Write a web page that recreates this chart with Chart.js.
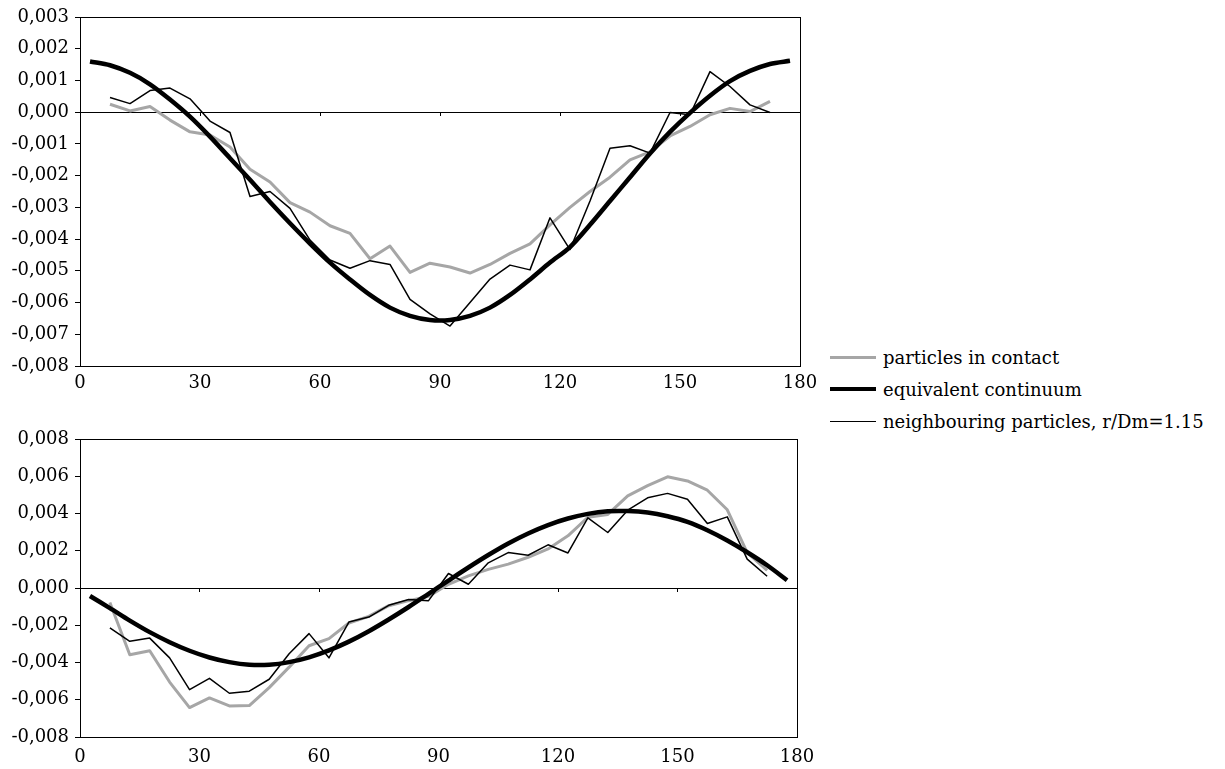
<!DOCTYPE html>
<html>
<head>
<meta charset="utf-8">
<script src="https://cdn.jsdelivr.net/npm/chart.js@4.4.1/dist/chart.umd.min.js"></script>
<style>
  body { margin: 0; width: 1225px; height: 769px; overflow: hidden; position: relative; background: #fff;
         font-family: 'DejaVu Serif', serif; color: #000; }
  .plot { position: absolute; left: 0; }
  #top-box { top: 0; width: 825px; height: 400px; }
  #bot-box { top: 420px; width: 822px; height: 349px; }
  #legend { position: absolute; left: 830px; top: 341px; font-size: 18px; }
  #legend .row { display: flex; align-items: center; height: 32px; }
  #legend .swatch { width: 46px; margin-right: 7px; }
</style>
</head>
<body>
<div class="plot" id="top-box"><canvas id="chart-top"></canvas></div>
<div class="plot" id="bot-box"><canvas id="chart-bot"></canvas></div>
<div id="legend"></div>
<script>
'use strict';

// ── Data (y values in units of 0.001) ───────────────────────────────────────
const UNIT = 0.001;

const ANGLES_FULL = [2.5, 7.5, 12.5, 17.5, 22.5, 27.5, 32.5, 37.5, 42.5, 47.5, 52.5, 57.5,
  62.5, 67.5, 72.5, 77.5, 82.5, 87.5, 92.5, 97.5, 102.5, 107.5, 112.5, 117.5,
  122.5, 127.5, 132.5, 137.5, 142.5, 147.5, 152.5, 157.5, 162.5, 167.5, 172.5, 177.5];
const ANGLES_INNER = [7.5, 12.5, 17.5, 22.5, 27.5, 32.5, 37.5, 42.5, 47.5, 52.5, 57.5,
  62.5, 67.5, 72.5, 77.5, 82.5, 87.5, 92.5, 97.5, 102.5, 107.5, 112.5, 117.5,
  122.5, 127.5, 132.5, 137.5, 142.5, 147.5, 152.5, 157.5, 162.5, 167.5, 172.5];

const X_TICKS = [0, 30, 60, 90, 120, 150, 180];

const SERIES_NAMES = ['particles in contact', 'equivalent continuum', 'neighbouring particles, r/Dm=1.15'];

// upper chart
const topContact = [0.25, 0.04, 0.18, -0.25, -0.62, -0.72, -1.10, -1.80, -2.20, -2.85, -3.15,
  -3.58, -3.82, -4.62, -4.22, -5.05, -4.76, -4.88, -5.07, -4.80, -4.45, -4.15, -3.55,
  -3.00, -2.50, -2.05, -1.50, -1.25, -0.75, -0.45, -0.08, 0.12, 0.02, 0.34];
const topContinuum = [1.60, 1.48, 1.24, 0.88, 0.40, -0.14, -0.77, -1.45, -2.13, -2.83, -3.50, -4.14,
  -4.74, -5.27, -5.76, -6.16, -6.42, -6.55, -6.55, -6.42, -6.16, -5.76, -5.27, -4.74,
  -4.25, -3.55, -2.80, -2.05, -1.30, -0.62, -0.02, 0.52, 0.98, 1.30, 1.52, 1.62];
const topNeighbour = [0.46, 0.27, 0.68, 0.76, 0.42, -0.28, -0.64, -2.66, -2.50, -3.03, -4.03,
  -4.66, -4.92, -4.68, -4.80, -5.90, -6.36, -6.74, -6.00, -5.26, -4.82, -4.97, -3.33,
  -4.33, -2.80, -1.14, -1.06, -1.29, -0.01, -0.08, 1.28, 0.81, 0.23, -0.01];

// lower chart
const botContact = [-0.78, -3.58, -3.37, -5.05, -6.42, -5.90, -6.33, -6.31, -5.35, -4.25, -3.10,
  -2.72, -1.88, -1.52, -0.95, -0.68, -0.45, 0.20, 0.65, 1.00, 1.28, 1.65, 2.10,
  2.80, 3.80, 3.95, 4.95, 5.50, 5.97, 5.75, 5.25, 4.20, 1.90, 0.95];
const botContinuum = [-0.43, -1.08, -1.75, -2.37, -2.91, -3.37, -3.73, -3.98, -4.12, -4.12, -3.98, -3.72,
  -3.35, -2.88, -2.32, -1.69, -1.02, -0.31, 0.40, 1.10, 1.77, 2.39, 2.93, 3.38,
  3.73, 3.98, 4.12, 4.13, 4.05, 3.85, 3.55, 3.10, 2.55, 1.92, 1.22, 0.42];
const botNeighbour = [-2.14, -2.86, -2.69, -3.75, -5.46, -4.85, -5.65, -5.54, -4.90, -3.53, -2.45,
  -3.75, -1.83, -1.56, -0.93, -0.62, -0.68, 0.78, 0.20, 1.35, 1.90, 1.76, 2.32,
  1.88, 3.77, 2.98, 4.18, 4.84, 5.08, 4.77, 3.46, 3.82, 1.55, 0.63];

// ── Styles ───────────────────────────────────────────────────────────────────
const STYLES = [
  { color: '#a6a6a6', width: 3,   order: 2 },   // particles in contact
  { color: '#000000', width: 4.5, order: 0 },   // equivalent continuum
  { color: '#000000', width: 1.5, order: 1 },   // neighbouring particles
];

Chart.defaults.font.family = "'DejaVu Serif', serif";
Chart.defaults.font.size = 18;
Chart.defaults.color = '#000';

const points = (xs, ys) => xs.map((x, i) => ({ x, y: ys[i] * UNIT }));
const isZero = v => Math.abs(v) < 1e-9;
const fmtTick = v => (isZero(v) ? 0 : v).toFixed(3).replace('.', ',');

function dataset(i, xs, ys) {
  const s = STYLES[i];
  return {
    label: SERIES_NAMES[i], data: points(xs, ys),
    borderColor: s.color, borderWidth: s.width, order: s.order,
    pointRadius: 0, tension: i === 1 ? 0.3 : 0, fill: false,
    borderJoinStyle: 'round', borderCapStyle: 'butt', xAxisID: 'x', yAxisID: 'y',
  };
}

// plain rectangle round the plot area
const frame = {
  id: 'frame',
  beforeDatasetsDraw(chart) {
    const { ctx, chartArea: a } = chart;
    ctx.save();
    ctx.strokeStyle = '#000';
    ctx.lineWidth = 1;
    ctx.strokeRect(Math.round(a.left) + 0.5, Math.round(a.top) + 0.5,
      Math.round(a.right - a.left), Math.round(a.bottom - a.top));
    ctx.restore();
  },
};

function noPad(scale) {
  scale.paddingLeft = scale.paddingRight = scale.paddingTop = scale.paddingBottom = 0;
}

function makeChart(id, sets, yMin, yMax, yStep, pad) {
  return new Chart(document.getElementById(id), {
    type: 'line',
    data: { datasets: sets },
    plugins: [frame],
    options: {
      responsive: true, maintainAspectRatio: false, animation: false,
      layout: { padding: pad },
      plugins: { legend: { display: false }, tooltip: { enabled: false } },
      scales: {
        x: {
          type: 'linear', min: 0, max: 180, position: 'bottom',
          afterBuildTicks: s => { s.ticks = X_TICKS.map(value => ({ value })); },
          afterFit: s => { s.height = pad.xh; noPad(s); },
          grid: { display: false, drawTicks: false },
          border: { display: false },
          ticks: { padding: pad.xl, autoSkip: false, maxRotation: 0 },
        },
        x0: {
          type: 'linear', axis: 'x', min: 0, max: 180, position: { y: 0 },
          afterBuildTicks: s => { s.ticks = X_TICKS.map(value => ({ value })); },
          afterFit: noPad,
          grid: { drawOnChartArea: false, drawTicks: true, tickLength: 4, tickColor: '#000' },
          border: { display: false },
          ticks: { display: false },
        },
        y: {
          type: 'linear', min: yMin, max: yMax,
          afterFit: s => { s.width = 80; noPad(s); },
          grid: {
            color: c => (c.tick && isZero(c.tick.value)) ? '#000' : 'rgba(0,0,0,0)',
            lineWidth: 1, tickLength: 5, tickColor: '#000',
          },
          border: { display: false },
          ticks: { stepSize: yStep, padding: 6, callback: fmtTick },
        },
      },
    },
  });
}

makeChart('chart-top', [
  dataset(0, ANGLES_INNER, topContact),
  dataset(1, ANGLES_FULL, topContinuum),
  dataset(2, ANGLES_INNER, topNeighbour),
], -0.008, 0.003, 0.001, { top: 17, right: 25, bottom: 0, left: 0, xh: 34, xl: 7 });

makeChart('chart-bot', [
  dataset(0, ANGLES_INNER, botContact),
  dataset(1, ANGLES_FULL, botContinuum),
  dataset(2, ANGLES_INNER, botNeighbour),
], -0.008, 0.008, 0.002, { top: 19, right: 25, bottom: 0, left: 0, xh: 32, xl: 10 });

// ── Legend ───────────────────────────────────────────────────────────────────
document.getElementById('legend').innerHTML = SERIES_NAMES.map((name, i) =>
  `<div class="row"><span class="swatch" style="border-top:${STYLES[i].width}px solid ${STYLES[i].color}"></span>${name}</div>`
).join('');
</script>
</body>
</html>
